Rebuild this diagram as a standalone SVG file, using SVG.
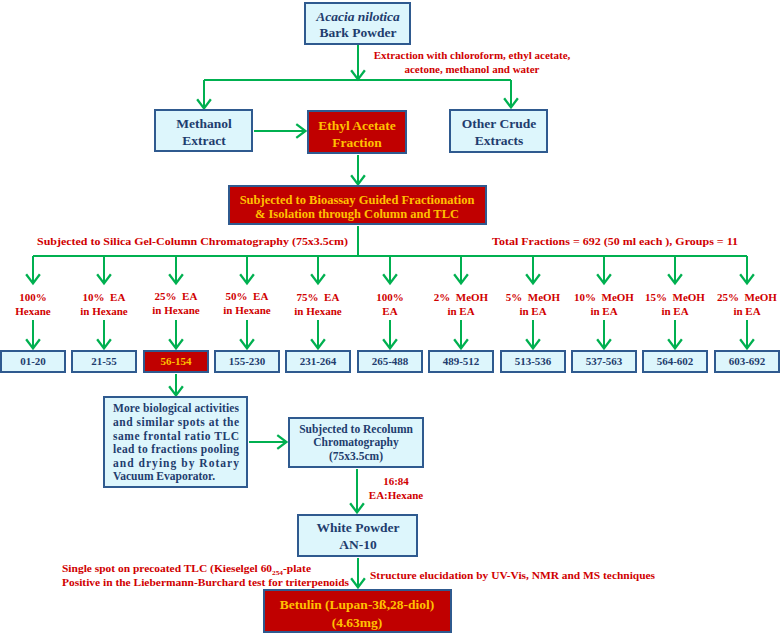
<svg xmlns="http://www.w3.org/2000/svg" width="780" height="634" viewBox="0 0 780 634">
<defs>
<marker id="ah" markerUnits="userSpaceOnUse" markerWidth="16" markerHeight="16" viewBox="-1 -7 10 14" refX="8.5" refY="0" orient="auto">
<path d="M0,-6 L8,0 L0,6" fill="none" stroke="#00b050" stroke-width="2"/>
</marker>
<style>
.b{fill:#ddf6fc;stroke:#2f5a8f;stroke-width:2}
.r{fill:#c00000;stroke:#2f5a8f;stroke-width:2}
.t{font-family:"Liberation Serif","Times New Roman",serif;font-weight:bold;fill:#1f3d6e;text-anchor:middle}
.y{font-family:"Liberation Serif","Times New Roman",serif;font-weight:bold;fill:#ffc000;text-anchor:middle}
.l{font-family:"Liberation Serif","Times New Roman",serif;font-weight:bold;fill:#d00000;font-size:11px}
.c{text-anchor:middle}
.p{white-space:pre}
.e{fill:none;stroke:#00b050;stroke-width:2}
.a{fill:none;stroke:#00b050;stroke-width:2;marker-end:url(#ah)}
</style>
</defs>

<g id="connectors">
<line class="a" x1="358" y1="45" x2="358" y2="80"/>
<line class="e" x1="204" y1="80" x2="511" y2="80"/>
<line class="a" x1="204" y1="80" x2="204" y2="109"/>
<line class="a" x1="511" y1="80" x2="511" y2="108"/>
<line class="a" x1="254" y1="131" x2="306" y2="131"/>
<line class="a" x1="358" y1="155" x2="358" y2="185"/>
<line class="e" x1="358" y1="226" x2="358" y2="256"/>
<line class="e" x1="33" y1="256" x2="747" y2="256"/>
<line class="a" x1="33" y1="256" x2="33" y2="284"/>
<line class="a" x1="104" y1="256" x2="104" y2="284"/>
<line class="a" x1="176" y1="256" x2="176" y2="284"/>
<line class="a" x1="247" y1="256" x2="247" y2="284"/>
<line class="a" x1="318" y1="256" x2="318" y2="284"/>
<line class="a" x1="390" y1="256" x2="390" y2="284"/>
<line class="a" x1="461" y1="256" x2="461" y2="284"/>
<line class="a" x1="533" y1="256" x2="533" y2="284"/>
<line class="a" x1="604" y1="256" x2="604" y2="284"/>
<line class="a" x1="675" y1="256" x2="675" y2="284"/>
<line class="a" x1="747" y1="256" x2="747" y2="284"/>
<line class="a" x1="33" y1="320" x2="33" y2="349"/>
<line class="a" x1="104" y1="320" x2="104" y2="349"/>
<line class="a" x1="176" y1="320" x2="176" y2="349"/>
<line class="a" x1="247" y1="320" x2="247" y2="349"/>
<line class="a" x1="318" y1="320" x2="318" y2="349"/>
<line class="a" x1="390" y1="320" x2="390" y2="349"/>
<line class="a" x1="461" y1="320" x2="461" y2="349"/>
<line class="a" x1="533" y1="320" x2="533" y2="349"/>
<line class="a" x1="604" y1="320" x2="604" y2="349"/>
<line class="a" x1="675" y1="320" x2="675" y2="349"/>
<line class="a" x1="747" y1="320" x2="747" y2="349"/>
<line class="a" x1="176" y1="374" x2="176" y2="396"/>
<line class="a" x1="249" y1="442" x2="287" y2="442"/>
<line class="a" x1="357" y1="469" x2="357" y2="513"/>
<line class="a" x1="358" y1="558" x2="358" y2="588"/>
</g>

<g id="labels">
<text class="l c" x="472" y="59">Extraction with chloroform, ethyl acetate,</text>
<text class="l c" x="472" y="73">acetone, methanol and water</text>
<text class="l" x="37" y="245" textLength="311" lengthAdjust="spacingAndGlyphs">Subjected to Silica Gel-Column Chromatography (75x3.5cm)</text>
<text class="l" x="492" y="245" textLength="246" lengthAdjust="spacingAndGlyphs">Total Fractions = 692 (50 ml each ), Groups = 11</text>
<text class="l c" x="33" y="301">100%</text><text class="l c" x="33" y="315">Hexane</text>
<text class="l c p" x="104" y="301">10%  EA</text><text class="l c" x="104" y="315">in Hexane</text>
<text class="l c p" x="176" y="300">25%  EA</text><text class="l c" x="176" y="314">in Hexane</text>
<text class="l c p" x="247" y="300">50%  EA</text><text class="l c" x="247" y="314">in Hexane</text>
<text class="l c p" x="318" y="301">75%  EA</text><text class="l c" x="318" y="315">in Hexane</text>
<text class="l c" x="390" y="301">100%</text><text class="l c" x="390" y="315">EA</text>
<text class="l c p" x="461" y="301">2%  MeOH</text><text class="l c" x="461" y="315">in EA</text>
<text class="l c p" x="533" y="301">5%  MeOH</text><text class="l c" x="533" y="315">in EA</text>
<text class="l c p" x="604" y="301">10%  MeOH</text><text class="l c" x="604" y="315">in EA</text>
<text class="l c p" x="675" y="301">15%  MeOH</text><text class="l c" x="675" y="315">in EA</text>
<text class="l c p" x="747" y="301">25%  MeOH</text><text class="l c" x="747" y="315">in EA</text>
<text class="l c" x="396" y="485">16:84</text>
<text class="l c" x="396" y="499">EA:Hexane</text>
<text class="l" x="62" y="572" textLength="249" lengthAdjust="spacingAndGlyphs">Single spot on precoated TLC (Kieselgel 60<tspan font-size="7" dy="3">254</tspan><tspan dy="-3">-plate</tspan></text>
<text class="l" x="62" y="586" textLength="287" lengthAdjust="spacingAndGlyphs">Positive in the Liebermann-Burchard test for triterpenoids</text>
<text class="l" x="370" y="579" textLength="285" lengthAdjust="spacingAndGlyphs">Structure elucidation by UV-Vis, NMR and MS techniques</text>
</g>

<g id="n-acacia">
<rect class="b" x="305" y="3" width="105" height="41"/>
<text class="t" x="358" y="21" font-size="13.5" font-style="italic">Acacia nilotica</text>
<text class="t" x="358" y="37" font-size="13.5">Bark Powder</text>
</g>
<g id="n-methanol">
<rect class="b" x="155" y="110" width="97" height="41"/>
<text class="t" x="204" y="128" font-size="13.5">Methanol</text>
<text class="t" x="204" y="145" font-size="13.5">Extract</text>
</g>
<g id="n-ethyl">
<rect class="r" x="308" y="111" width="98" height="42"/>
<text class="y" x="357" y="130" font-size="13.5">Ethyl Acetate</text>
<text class="y" x="357" y="147" font-size="13.5">Fraction</text>
</g>
<g id="n-other">
<rect class="b" x="450" y="110" width="97" height="42"/>
<text class="t" x="499" y="128" font-size="13.5">Other Crude</text>
<text class="t" x="499" y="145" font-size="13.5">Extracts</text>
</g>
<g id="n-bioassay">
<rect class="r" x="229" y="186" width="257" height="38"/>
<text class="y" x="357" y="204" font-size="12.5">Subjected to Bioassay Guided Fractionation</text>
<text class="y" x="357" y="218" font-size="12.5">&amp; Isolation through Column and TLC</text>
</g>

<g id="n-f1"><rect class="b" x="1" y="351" width="64" height="21"/><text class="t" x="33" y="365" font-size="11">01-20</text></g>
<g id="n-f2"><rect class="b" x="72" y="351" width="64" height="21"/><text class="t" x="104" y="365" font-size="11">21-55</text></g>
<g id="n-f3"><rect class="r" x="144" y="351" width="64" height="21"/><text class="y" x="176" y="365" font-size="11">56-154</text></g>
<g id="n-f4"><rect class="b" x="215" y="351" width="64" height="21"/><text class="t" x="247" y="365" font-size="11">155-230</text></g>
<g id="n-f5"><rect class="b" x="286" y="351" width="64" height="21"/><text class="t" x="318" y="365" font-size="11">231-264</text></g>
<g id="n-f6"><rect class="b" x="358" y="351" width="64" height="21"/><text class="t" x="390" y="365" font-size="11">265-488</text></g>
<g id="n-f7"><rect class="b" x="429" y="351" width="64" height="21"/><text class="t" x="461" y="365" font-size="11">489-512</text></g>
<g id="n-f8"><rect class="b" x="501" y="351" width="64" height="21"/><text class="t" x="533" y="365" font-size="11">513-536</text></g>
<g id="n-f9"><rect class="b" x="572" y="351" width="64" height="21"/><text class="t" x="604" y="365" font-size="11">537-563</text></g>
<g id="n-f10"><rect class="b" x="643" y="351" width="64" height="21"/><text class="t" x="675" y="365" font-size="11">564-602</text></g>
<g id="n-f11"><rect class="b" x="715" y="351" width="64" height="21"/><text class="t" x="747" y="365" font-size="11">603-692</text></g>

<g id="n-more">
<rect class="b" x="104" y="397" width="143" height="90"/>
<g font-size="11.5">
<text class="t" style="text-anchor:start" x="113" y="412" textLength="126" lengthAdjust="spacing">More biological activities</text>
<text class="t" style="text-anchor:start" x="113" y="426" textLength="126" lengthAdjust="spacing">and similar spots at the</text>
<text class="t" style="text-anchor:start" x="113" y="440" textLength="126" lengthAdjust="spacing">same frontal ratio TLC</text>
<text class="t" style="text-anchor:start" x="113" y="453" textLength="126" lengthAdjust="spacing">lead to fractions pooling</text>
<text class="t" style="text-anchor:start" x="113" y="467" textLength="126" lengthAdjust="spacing">and drying by Rotary</text>
<text class="t" style="text-anchor:start" x="113" y="480">Vacuum Evaporator.</text>
</g>
</g>
<g id="n-recolumn">
<rect class="b" x="289" y="418" width="134" height="49"/>
<text class="t" x="356" y="433" font-size="11.5">Subjected to Recolumn</text>
<text class="t" x="356" y="446" font-size="11.5">Chromatography</text>
<text class="t" x="356" y="460" font-size="11.5">(75x3.5cm)</text>
</g>
<g id="n-white">
<rect class="b" x="298" y="515" width="119" height="41"/>
<text class="t" x="358" y="532" font-size="13.5">White Powder</text>
<text class="t" x="358" y="549" font-size="13.5">AN-10</text>
</g>
<g id="n-betulin">
<rect class="r" x="264" y="590" width="187" height="42"/>
<text class="y" x="357" y="609" font-size="13.5">Betulin (Lupan-3ß,28-diol)</text>
<text class="y" x="357" y="627" font-size="13.5">(4.63mg)</text>
</g>
</svg>
